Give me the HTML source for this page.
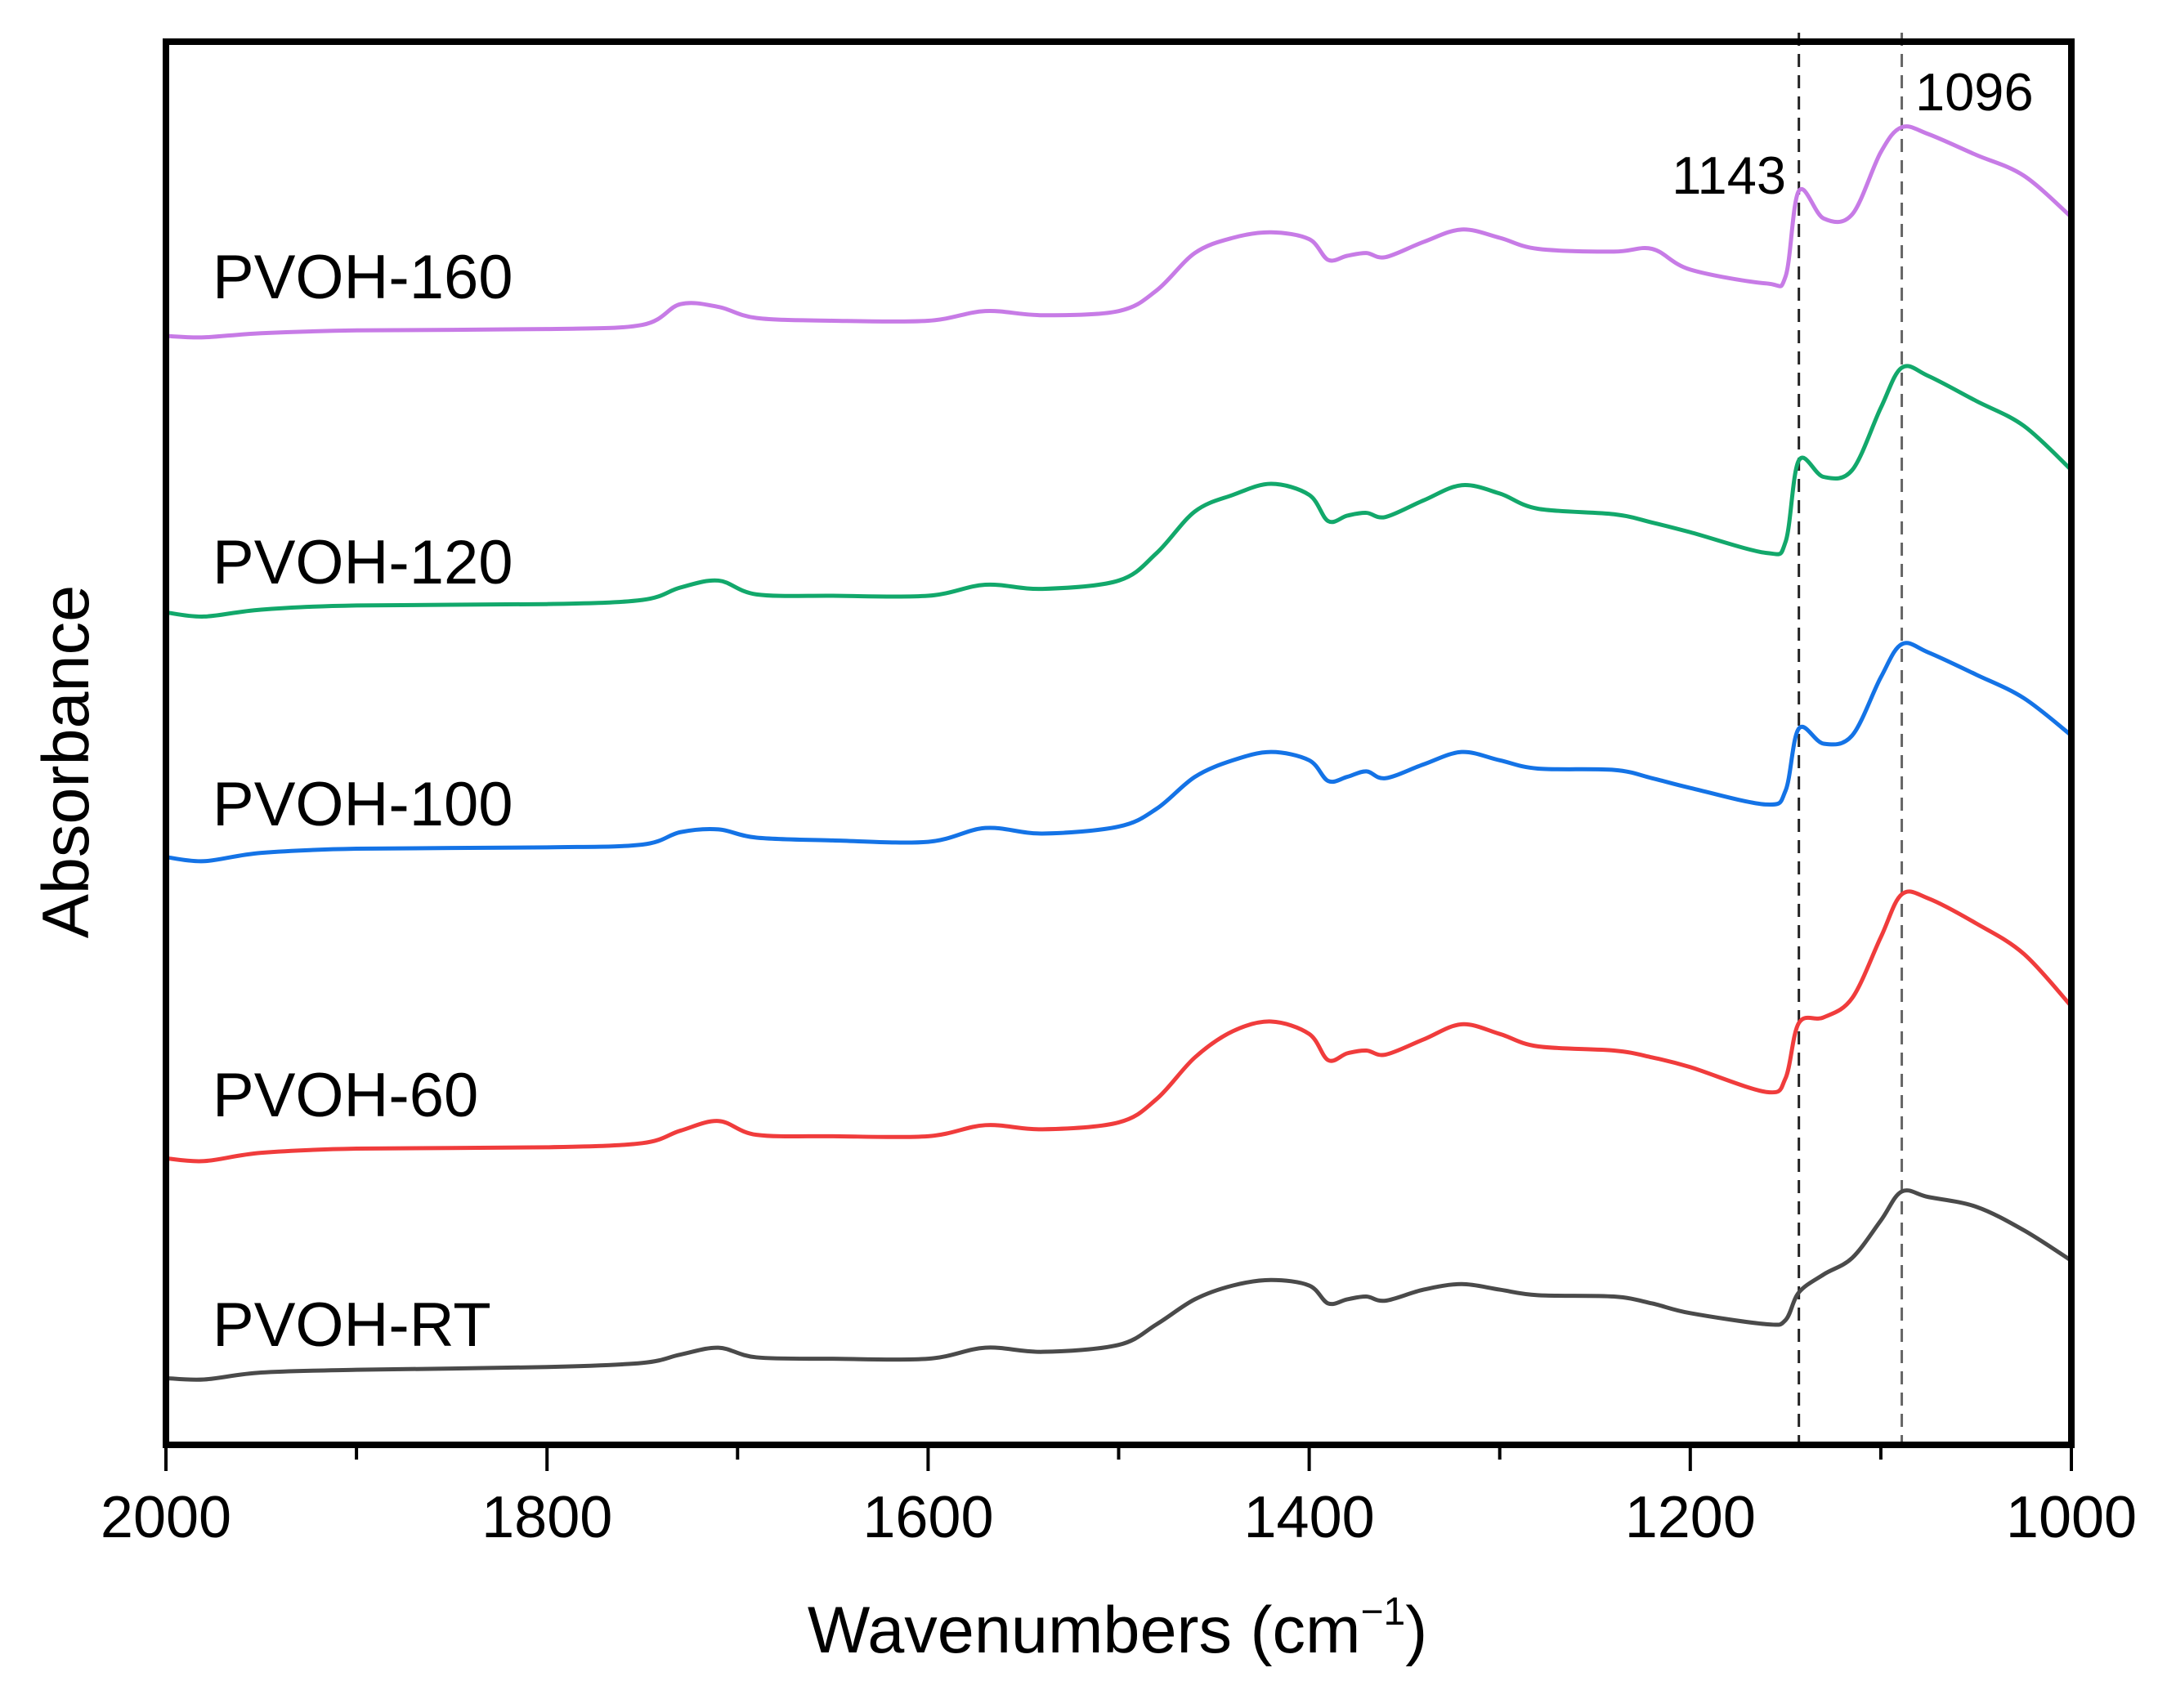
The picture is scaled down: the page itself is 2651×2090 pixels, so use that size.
<!DOCTYPE html>
<html><head><meta charset="utf-8"><style>
html,body{margin:0;padding:0;background:#fff;}
svg{display:block;font-family:"Liberation Sans",Arial,sans-serif;}
</style></head><body>
<svg id="chart" width="2651" height="2090" viewBox="0 0 2651 2090">
<g id="plot"></g>
<rect x="203" y="51" width="2331" height="1717" fill="none" stroke="#000" stroke-width="8"/>
<g id="ticks"></g>
<text x="1367" y="2022" font-size="81" text-anchor="middle">Wavenumbers (cm<tspan dy="-34" font-size="48">−1</tspan><tspan dy="34">)</tspan></text>
<text transform="translate(108,932) rotate(-90)" font-size="81" text-anchor="middle">Absorbance</text>
<text x="2185" y="237" font-size="65" text-anchor="end">1143</text>
<text x="2343" y="135" font-size="65">1096</text>
<text x="260" y="365" font-size="76">PVOH-160</text>
<text x="260" y="714" font-size="76">PVOH-120</text>
<text x="260" y="1010" font-size="76">PVOH-100</text>
<text x="260" y="1366" font-size="76">PVOH-60</text>
<text x="260" y="1647" font-size="76">PVOH-RT</text>
</svg>
<script>
const wavenumbers=[2000,1980,1950,1900,1800,1750,1730,1710,1690,1650,1600,1570,1540,1500,1480,1460,1440,1420,1400,1390,1380,1370,1360,1340,1320,1300,1280,1240,1220,1200,1160,1150,1143,1130,1115,1100,1089,1075,1050,1025,1000];
const pvoh160=[802,801,804,806,807,810,825,823,815,813,813,820,817,820,835,862,873,877,872,857,860,862,859,870,879,873,865,863,865,850,840,845,907,887,890,935,953,948,933,918,888];
const pvoh120=[602,599,604,607,608,611,620,625,615,614,614,622,619,625,645,675,687,695,687,668,672,674,671,683,694,688,677,673,667,660,645,653,712,700,705,750,779,773,755,737,705];
const pvoh100=[425,422,428,431,432,434,443,445,439,437,436,446,442,447,460,483,495,501,495,480,483,487,482,492,501,495,489,488,482,475,463,473,518,507,513,555,579,573,557,540,513];
const pvoh60=[207,205,211,214,215,218,227,234,224,223,223,231,228,233,250,280,299,306,297,278,283,285,282,293,304,297,288,285,280,273,255,265,305,309,323,367,398,395,377,355,317];
const pvohRT=[48,47,52,54,56,59,65,70,63,62,62,70,67,72,87,105,115,119,115,102,105,107,104,112,116,112,108,107,102,95,87,90,110,123,135,162,183,179,172,155,133];
const seriesNames=["pvoh-160","pvoh-120","pvoh-100","pvoh-60","pvoh-rt"];
const xTicks=[2000,1800,1600,1400,1200,1000];
const peakLines=[1143,1089];

const NS="http://www.w3.org/2000/svg";
const L=203,R=2534,T=51,B=1768;
function xs(w){return L+(2000-w)/1000*(R-L);}
function ys(a){return 1767.5-a*1.6913;}
const plot=document.getElementById('plot');
const ticks=document.getElementById('ticks');
function mk(tag,attrs,parent){const e=document.createElementNS(NS,tag);for(const k in attrs)e.setAttribute(k,attrs[k]);parent.appendChild(e);return e;}

peakLines.forEach(w=>{
  const ln=mk('line',{x1:xs(w),x2:xs(w),y1:40,y2:B,stroke:w===1143?'#222':'#666','stroke-width':3,'stroke-dasharray':'16,10'},plot);
  
  
});

const data=[pvoh160,pvoh120,pvoh100,pvoh60,pvohRT];
const colors=['#c77be6','#12a86b','#1473e6','#f03c3c','#4a4a4a'];
data.forEach((vals,si)=>{
  const pts=wavenumbers.map((w,i)=>[xs(w),ys(vals[i])]);
  let d='M'+pts[0][0]+','+pts[0][1];
  for(let i=0;i<pts.length-1;i++){
    const p0=pts[Math.max(0,i-1)],p1=pts[i],p2=pts[i+1],p3=pts[Math.min(pts.length-1,i+2)];
    const c1x=p1[0]+(p2[0]-p0[0])/6,c1y=p1[1]+(p2[1]-p0[1])/6;
    const c2x=p2[0]-(p3[0]-p1[0])/6,c2y=p2[1]-(p3[1]-p1[1])/6;
    d+=' C'+c1x+','+c1y+' '+c2x+','+c2y+' '+p2[0]+','+p2[1];
  }
  const path=mk('path',{d:d,fill:'none',stroke:colors[si],'stroke-width':5,'stroke-linejoin':'round'},plot);
  
  
});

for(let w=2000;w>=1000;w-=100){
  const major=xTicks.indexOf(w)>=0;
  const t=mk('line',{x1:xs(w),x2:xs(w),y1:B,y2:B+(major?32:18),stroke:'#000','stroke-width':4},ticks);
  
  
}
xTicks.forEach(w=>{
  const tx=mk('text',{x:xs(w),y:1881,'font-size':72,'text-anchor':'middle'},ticks);
  tx.textContent=w;
  
  
});
</script>
</body></html>
